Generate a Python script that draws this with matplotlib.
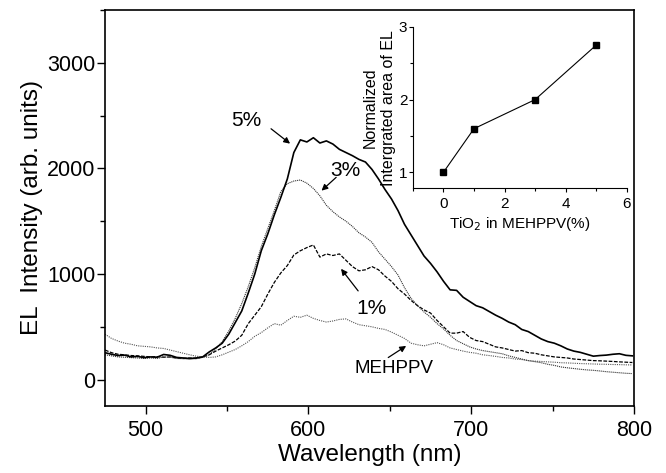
import matplotlib
matplotlib.use("Agg")
import matplotlib.pyplot as plt
from matplotlib.ticker import MultipleLocator

plt.rcParams['font.family'] = ['Liberation Sans', 'DejaVu Sans']

wavelength = list(range(475, 800, 4))

el_5pct = [255, 240, 228, 232, 215, 220, 208, 215, 212, 238, 230, 210, 205, 200, 205, 215,
           262, 300, 345, 430, 540, 650, 820, 1000, 1220, 1380, 1560, 1725, 1900, 2150,
           2270, 2250, 2290, 2240, 2260, 2230, 2180, 2150, 2120, 2085, 2060, 1990, 1900,
           1800, 1710, 1600, 1470, 1370, 1270, 1170, 1100, 1020, 930, 850, 845, 780, 740,
           700, 680, 645, 610, 580, 545, 520, 475, 455, 420, 385, 360, 345, 320, 290, 270,
           258, 240, 222, 228, 232, 240, 245, 230, 225]

el_3pct = [235, 225, 215, 212, 208, 205, 200, 205, 200, 215, 212, 200, 198, 195, 198, 210,
           235, 290, 360, 460, 580, 720, 880, 1060, 1260, 1430, 1600, 1780, 1855, 1880,
           1890, 1860, 1810, 1740, 1650, 1590, 1540, 1500, 1450, 1390, 1350, 1300, 1210,
           1140, 1070, 990, 870, 770, 700, 640, 590, 530, 480, 420, 370, 340, 310, 290,
           275, 265, 255, 245, 225, 210, 195, 180, 170, 160, 145, 135, 120, 112, 105, 98,
           92, 88, 82, 75, 70, 65, 60, 57]

el_1pct = [280, 255, 240, 235, 228, 225, 220, 215, 218, 212, 215, 205, 200, 205, 200, 215,
           235, 270, 300, 330, 365, 420, 530, 610, 690, 810, 920, 1010, 1080, 1180, 1220,
           1250, 1275, 1160, 1190, 1175, 1190, 1130, 1070, 1030, 1040, 1070, 1040, 980, 930,
           860, 810, 750, 700, 660, 630, 560, 500, 440, 440, 455, 400, 370, 360, 335, 310,
           300, 285, 270, 275, 255, 250, 235, 225, 215, 210, 205, 195, 190, 185, 180, 178,
           175, 172, 168, 165, 162]

el_meh = [430, 390, 365, 345, 335, 320, 315, 310, 300, 295, 280, 265, 250, 235, 222, 215,
          210, 215, 235, 260, 285, 320, 360, 410, 445, 490, 530, 515, 560, 600, 590, 610,
          580, 560, 545, 555, 570, 575, 545, 520, 510, 500, 485, 475, 450, 420, 390, 345,
          330, 320, 335, 350, 330, 300, 285, 270, 258, 250, 235, 228, 220, 210, 205, 195,
          190, 180, 175, 172, 168, 165, 160, 158, 155, 152, 150, 148, 146, 145, 143, 142,
          140, 139]

tio2 = [0, 1, 3, 5]
norm_area = [1.0, 1.6, 2.0, 2.75]

fig = plt.figure(figsize=(6.66, 4.73), dpi=100)
ax = fig.add_axes([0.1577, 0.1416, 0.952 - 0.1577, 0.979 - 0.1416])

ax.plot(wavelength, el_meh, color='#555555', lw=0.8, ls=(0, (1, 1)))
ax.plot(wavelength, el_1pct, color='black', lw=0.9, ls=(0, (3, 1.2)))
ax.plot(wavelength, el_3pct, color='#333333', lw=0.8, ls=(0, (1, 0.8)))
ax.plot(wavelength, el_5pct, color='black', lw=1.2)

ax.set_xlim(475, 800)
ax.set_ylim(-250, 3500)
ax.set_xticks([500, 600, 700, 800])
ax.set_yticks([0, 1000, 2000, 3000])
ax.xaxis.set_minor_locator(MultipleLocator(50))
ax.yaxis.set_minor_locator(MultipleLocator(500))
ax.tick_params(which='both', direction='out', top=False, right=False, labelsize=15.5, width=1)
ax.tick_params(which='major', length=6)
ax.tick_params(which='minor', length=3.5)
ax.tick_params(axis='y', pad=1)
ax.tick_params(axis='x', pad=4)
for s in ax.spines.values():
    s.set_linewidth(1.2)
ax.set_xlabel('Wavelength (nm)', fontsize=17.5, labelpad=2)
ax.set_ylabel('EL  Intensity (arb. units)', fontsize=17.5, labelpad=3)

arrow = dict(arrowstyle='-|>', color='black', lw=0.9, mutation_scale=9, shrinkA=0, shrinkB=0)
ax.annotate('', xy=(588.7, 2234), xytext=(577, 2375), arrowprops=arrow)
ax.text(562, 2450, '5%', fontsize=15, ha='center', va='center')
ax.annotate('', xy=(608, 1789), xytext=(617, 1915), arrowprops=arrow)
ax.text(622.5, 1978, '3%', fontsize=15, ha='center', va='center')
ax.annotate('', xy=(620, 1049), xytext=(630.5, 840), arrowprops=arrow)
ax.text(638.5, 670, '1%', fontsize=15, ha='center', va='center')
ax.annotate('', xy=(660, 319), xytext=(649, 209), arrowprops=arrow)
ax.text(652.6, 101, 'MEHPPV', fontsize=13.5, ha='center', va='center')

ins = fig.add_axes([0.620, 0.602, 0.941 - 0.620, 0.943 - 0.602])
ins.patch.set_alpha(0)
ins.plot(tio2, norm_area, color='black', lw=0.8, marker='s', ms=4)
ins.set_xlim(-1, 6)
ins.set_ylim(0.78, 3)
ins.set_xticks([0, 2, 4, 6])
ins.set_yticks([1, 2, 3])
ins.xaxis.set_minor_locator(MultipleLocator(1))
ins.yaxis.set_minor_locator(MultipleLocator(0.5))
ins.spines['top'].set_visible(False)
ins.spines['right'].set_visible(False)
for s in ['left', 'bottom']:
    ins.spines[s].set_linewidth(0.8)
ins.tick_params(which='both', direction='out', labelsize=11, width=0.8)
ins.tick_params(which='major', length=3)
ins.tick_params(which='minor', length=2)
ins.tick_params(axis='y', pad=1)
ins.set_xlabel('TiO$_2$ in MEHPPV(%)', fontsize=11, labelpad=3)
ins.set_ylabel('Normalized\nIntergrated area of EL', fontsize=11.5, labelpad=2, linespacing=1.25)

fig.savefig('out.png', dpi=100)
